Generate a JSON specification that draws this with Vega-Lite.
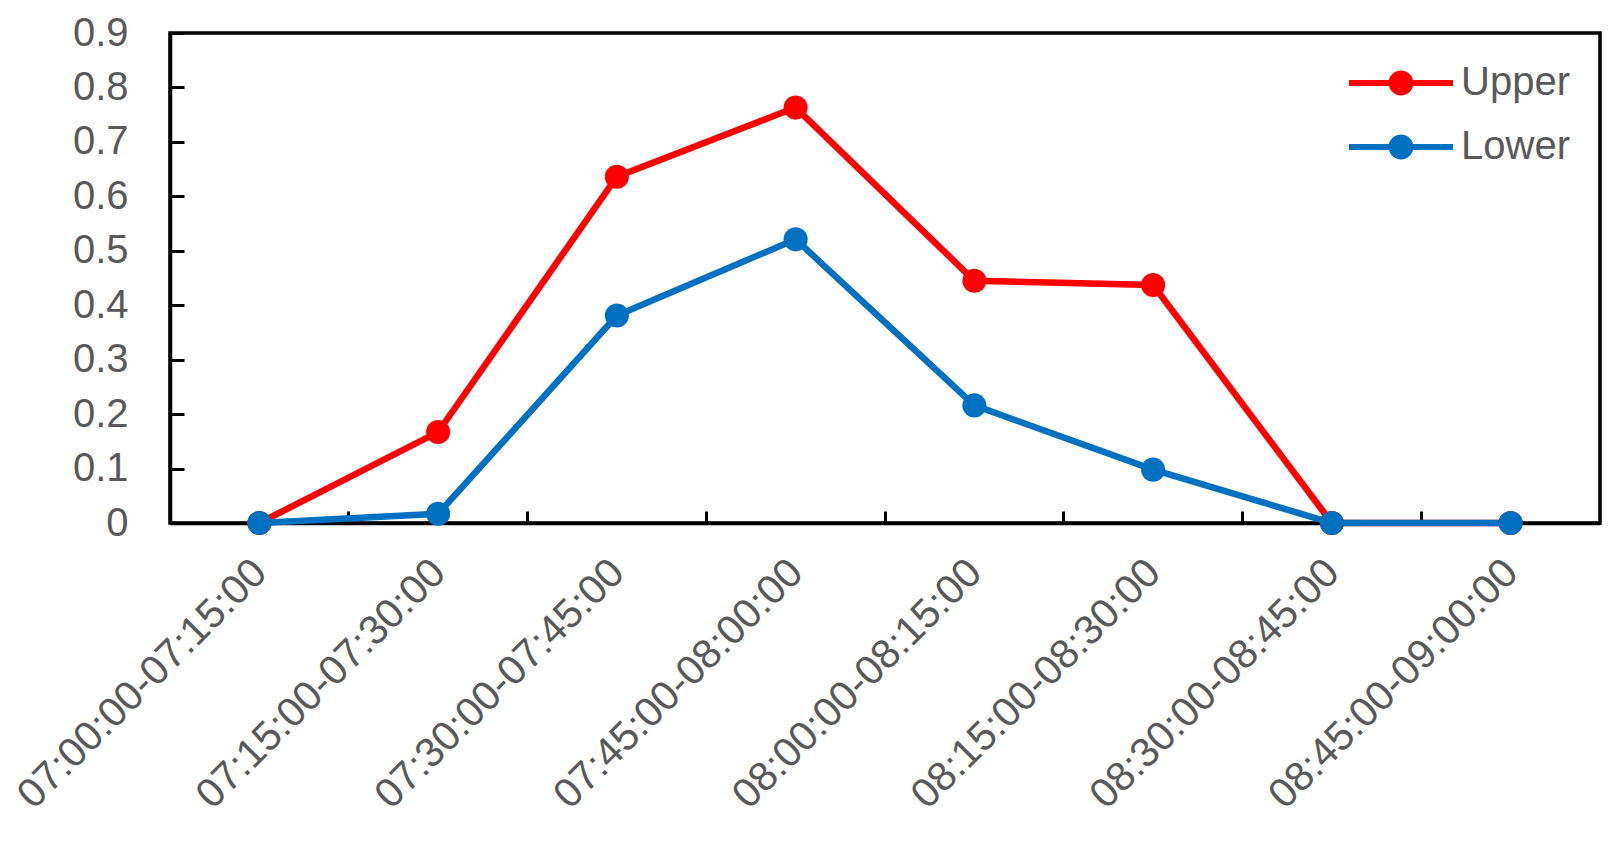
{
  "$schema": "https://vega.github.io/schema/vega-lite/v6.json",
  "width": 1430,
  "height": 490,
  "autosize": "none",
  "padding": {"left": 170, "top": 33, "right": 19, "bottom": 318},
  "background": "white",
  "config": {
    "view": {"stroke": "black", "strokeWidth": 3.5},
    "font": "Liberation Sans"
  },
  "data": {
    "values": [
      {"time": "07:00:00-07:15:00", "series": "Upper", "value": 0},
      {"time": "07:15:00-07:30:00", "series": "Upper", "value": 0.167},
      {"time": "07:30:00-07:45:00", "series": "Upper", "value": 0.636},
      {"time": "07:45:00-08:00:00", "series": "Upper", "value": 0.763},
      {"time": "08:00:00-08:15:00", "series": "Upper", "value": 0.445},
      {"time": "08:15:00-08:30:00", "series": "Upper", "value": 0.437},
      {"time": "08:30:00-08:45:00", "series": "Upper", "value": 0},
      {"time": "08:45:00-09:00:00", "series": "Upper", "value": 0},
      {"time": "07:00:00-07:15:00", "series": "Lower", "value": 0},
      {"time": "07:15:00-07:30:00", "series": "Lower", "value": 0.017},
      {"time": "07:30:00-07:45:00", "series": "Lower", "value": 0.381},
      {"time": "07:45:00-08:00:00", "series": "Lower", "value": 0.521},
      {"time": "08:00:00-08:15:00", "series": "Lower", "value": 0.216},
      {"time": "08:15:00-08:30:00", "series": "Lower", "value": 0.098},
      {"time": "08:30:00-08:45:00", "series": "Lower", "value": 0},
      {"time": "08:45:00-09:00:00", "series": "Lower", "value": 0}
    ]
  },
  "mark": {"type": "line", "strokeWidth": 6.5, "point": {"filled": true, "size": 580, "opacity": 1}},
  "encoding": {
    "x": {
      "field": "time",
      "type": "ordinal",
      "sort": null,
      "scale": {"type": "band", "paddingInner": 0, "paddingOuter": 0},
      "axis": {
        "title": null,
        "labelAngle": -45,
        "labelAlign": "right",
        "labelBaseline": "top",
        "labelFontSize": 41,
        "labelColor": "#595959",
        "labelLimit": 0,
        "labelPadding": 41,
        "labelOffset": -13,
        "tickSize": -12,
        "tickWidth": 3,
        "tickColor": "black",
        "bandPosition": 0,
        "domainColor": "black",
        "domainWidth": 3.5,
        "grid": false
      }
    },
    "y": {
      "field": "value",
      "type": "quantitative",
      "scale": {"domain": [0, 0.9], "nice": false, "zero": true},
      "axis": {
        "title": null,
        "values": [0, 0.1, 0.2, 0.3, 0.4, 0.5, 0.6, 0.7, 0.8, 0.9],
        "format": ".1~f",
        "labelFontSize": 40,
        "labelColor": "#595959",
        "labelPadding": 56,
        "tickSize": -14,
        "tickWidth": 3,
        "tickColor": "black",
        "domainColor": "black",
        "domainWidth": 3.5,
        "grid": false
      }
    },
    "color": {
      "field": "series",
      "type": "nominal",
      "sort": ["Upper", "Lower"],
      "scale": {"domain": ["Upper", "Lower"], "range": ["#FF0000", "#0070C0"]},
      "legend": {
        "title": null,
        "orient": "top-right",
        "offset": 30,
        "labelFontSize": 40,
        "labelColor": "#595959",
        "symbolType": "M-2.6,-0.15H2.6V0.15H-2.6Z M0.62,0A0.62,0.62 0 1,1 -0.62,0A0.62,0.62 0 1,1 0.62,0Z",
        "symbolSize": 1600,
        "symbolStrokeWidth": 0,
        "labelOffset": 40,
        "rowPadding": 24,
        "encode": {
          "symbols": {
            "update": {
              "fill": {"scale": "color", "field": "value"},
              "stroke": {"value": "transparent"},
              "opacity": {"value": 1}
            }
          }
        }
      }
    }
  }
}
